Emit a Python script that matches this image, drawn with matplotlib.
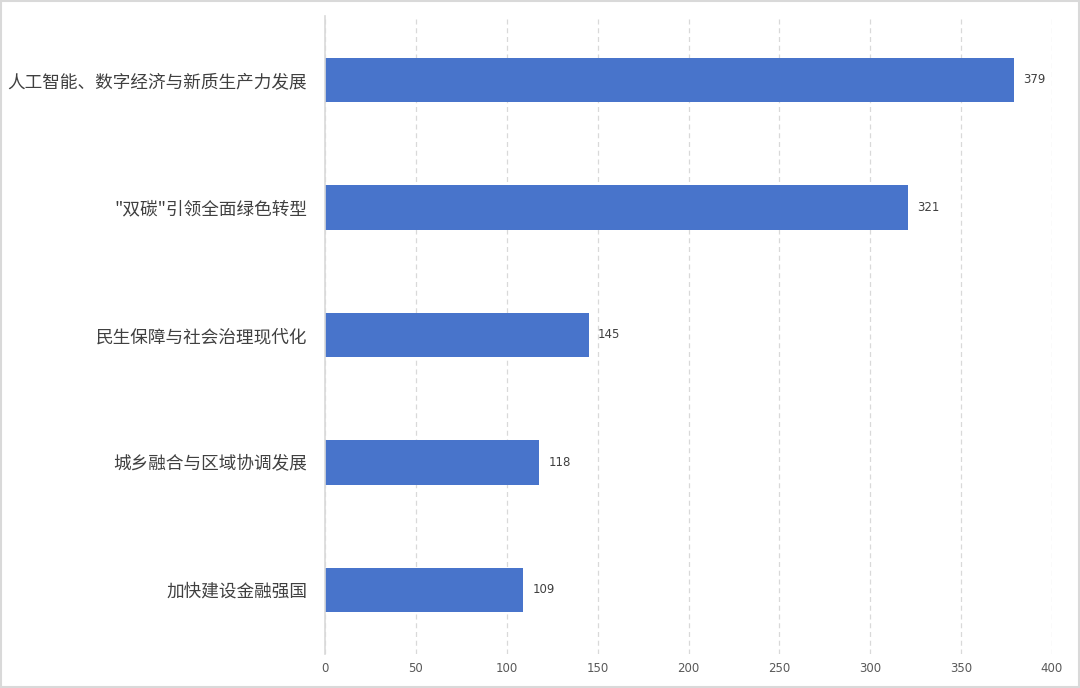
import matplotlib.pyplot as plt
from matplotlib.patches import Rectangle

plt.rcParams['font.family'] = ['Noto Sans CJK SC', 'DejaVu Sans']

# data, top to bottom
topics = ["人工智能、数字经济与新质生产力发展",
          "\"双碳\"引领全面绿色转型",
          "民生保障与社会治理现代化",
          "城乡融合与区域协调发展",
          "加快建设金融强国"]
counts = [379, 321, 145, 118, 109]
x_ticks = [0, 50, 100, 150, 200, 250, 300, 350, 400]

fig = plt.figure(figsize=(10.8, 6.88), dpi=100)
ax = fig.add_axes([0.301, 0.0498, 0.673, 0.9266])

pos = list(range(len(topics)))
ax.barh(pos, counts, height=0.35, color="#4874CB", zorder=3)
ax.set_ylim(len(topics) - 0.5, -0.5)
ax.set_xlim(0, 400)

for p, v in zip(pos, counts):
    ax.text(v + 5, p, str(v), va="center", ha="left", fontsize=8.5,
            color="#404040", family=["DejaVu Sans"])

ax.set_yticks(pos)
ax.set_yticklabels(topics, fontsize=12.7, color="#404040")
ax.set_xticks(x_ticks)
ax.set_xticklabels([str(t) for t in x_ticks], fontsize=8.5, color="#595959",
                   family=["DejaVu Sans"])
ax.tick_params(axis="both", length=0)
ax.tick_params(axis="y", pad=13)
ax.tick_params(axis="x", pad=6)

ax.grid(axis="x", linestyle=(0, (4, 3)), color="#D9D9D9", linewidth=0.9, zorder=0)
for s in ["top", "right", "bottom"]:
    ax.spines[s].set_visible(False)
ax.spines["left"].set_color("#D9D9D9")
ax.spines["left"].set_linewidth(1.2)
ax.spines["left"].set_zorder(4)

# light frame around the whole picture
fig.patches.append(Rectangle((0.001, 0.002), 0.998, 0.996, transform=fig.transFigure,
                             fill=False, edgecolor="#D9D9D9", linewidth=1.5))

fig.savefig("out.png", dpi=100)
